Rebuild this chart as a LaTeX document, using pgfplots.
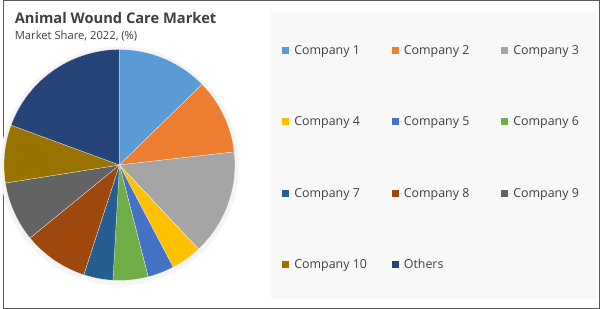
\documentclass[border=0pt]{standalone}
\usepackage{pgfplots}
\pgfplotsset{compat=1.18}
\usepackage{fontspec}
\setmainfont{Open Sans}
\definecolor{c1}{HTML}{5B9BD5}
\definecolor{c2}{HTML}{ED7D31}
\definecolor{c3}{HTML}{A5A5A5}
\definecolor{c4}{HTML}{FFC000}
\definecolor{c5}{HTML}{4472C4}
\definecolor{c6}{HTML}{70AD47}
\definecolor{c7}{HTML}{255E91}
\definecolor{c8}{HTML}{9E480E}
\definecolor{c9}{HTML}{636363}
\definecolor{c10}{HTML}{997300}
\definecolor{c11}{HTML}{264478}
\definecolor{txt}{HTML}{404040}
\definecolor{panel}{HTML}{F8F8F8}
% market shares (%), clockwise from 12 o'clock:
% Company 1..10, Others = 12.7 10.5 14.8 4.3 3.7 4.9 4.1 9.1 8.4 8.1 19.4
\newcommand{\slice}[3]{%
  \addplot[fill=#3, draw=white, line width=0.2pt, domain=#1:#2, samples=60]
    ({117.3+116*cos(90-3.6*x)},{144.3+116*sin(90-3.6*x)}) -- (axis cs:117.3,144.3) -- cycle;}
\begin{document}
\begin{tikzpicture}
\begin{axis}[
  scale only axis, width=600bp, height=310bp,
  xmin=0, xmax=600, ymin=0, ymax=310,
  hide axis, clip=false,
  legend columns=3, legend cell align=left,
  legend image code/.code={\fill[#1, draw=none] (0bp,-3.5bp) rectangle (7bp,3.5bp); \path[draw=none] (0bp,0bp) -- (10bp,0bp);},
  legend style={at={(281/600,266.5/310)}, anchor=north west, draw=none, fill=none,
    inner sep=0pt, outer sep=0pt, row sep=57.2bp, column sep=0pt,
    font=\fontsize{12.5}{15}\selectfont, text=txt},
]
\draw[black!65, line width=1bp] (axis cs:0.5,0.5) rectangle (axis cs:599.5,309.5);
\fill[panel] (axis cs:270,298) rectangle (axis cs:597,11);
\fill[black!6] (axis cs:117.3,143.3) circle[radius=118bp];
\fill[black!4] (axis cs:117.3,143.3) circle[radius=120bp];
\node[anchor=base west, font=\bfseries\fontsize{14.8}{18}\selectfont, text=txt, inner sep=0pt] at (axis cs:12,286) {Animal Wound Care Market};
\node[anchor=base west, font=\fontsize{11.3}{13}\selectfont, text=txt, inner sep=0pt] at (axis cs:12,270) {Market Share, 2022, (\%)};
\slice{0}{12.7}{c1}\addlegendentry{\makebox[96bp][l]{Company 1}}
\slice{12.7}{23.2}{c2}\addlegendentry{\makebox[96bp][l]{Company 2}}
\slice{23.2}{38.0}{c3}\addlegendentry{\makebox[68bp][l]{Company 3}}
\slice{38.0}{42.3}{c4}\addlegendentry{\makebox[96bp][l]{Company 4}}
\slice{42.3}{46.0}{c5}\addlegendentry{\makebox[96bp][l]{Company 5}}
\slice{46.0}{50.9}{c6}\addlegendentry{\makebox[68bp][l]{Company 6}}
\slice{50.9}{55.0}{c7}\addlegendentry{\makebox[96bp][l]{Company 7}}
\slice{55.0}{64.1}{c8}\addlegendentry{\makebox[96bp][l]{Company 8}}
\slice{64.1}{72.5}{c9}\addlegendentry{\makebox[68bp][l]{Company 9}}
\slice{72.5}{80.6}{c10}\addlegendentry{\makebox[96bp][l]{Company 10}}
\slice{80.6}{100}{c11}\addlegendentry{\makebox[96bp][l]{Others}}
\end{axis}
\end{tikzpicture}
\end{document}
